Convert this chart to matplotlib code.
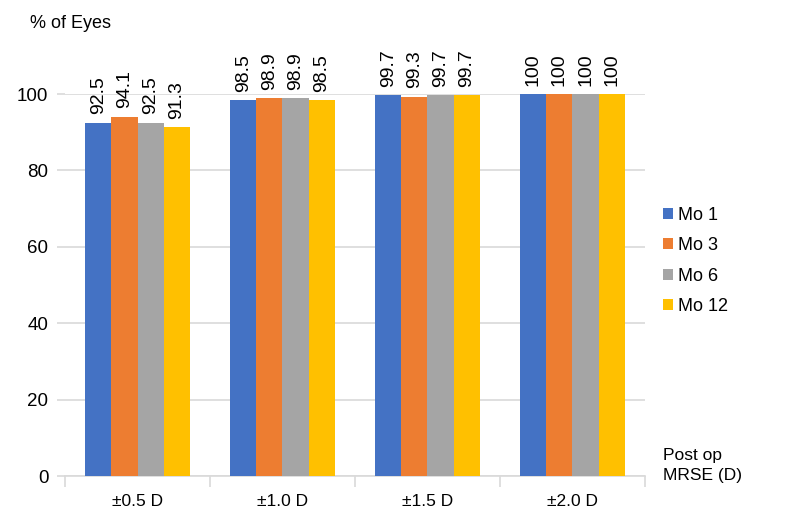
import numpy as np
import matplotlib
matplotlib.use("Agg")
import matplotlib.pyplot as plt
from matplotlib.ticker import FixedLocator

plt.rcParams["font.family"] = ["Liberation Sans", "DejaVu Sans"]

# ---------------- Dados ----------------
categories = ["±0.5 D", "±1.0 D", "±1.5 D", "±2.0 D"]
series_names = ["Mo 1", "Mo 3", "Mo 6", "Mo 12"]
mo1 = [92.5, 98.5, 99.7, 100]
mo3 = [94.1, 98.9, 99.3, 100]
mo6 = [92.5, 98.9, 99.7, 100]
mo12 = [91.3, 98.5, 99.7, 100]
value_labels = [
    ["92.5", "98.5", "99.7", "100"],
    ["94.1", "98.9", "99.3", "100"],
    ["92.5", "98.9", "99.7", "100"],
    ["91.3", "98.5", "99.7", "100"],
]
y_ticks = [0, 20, 40, 60, 80, 100]

colors = ["#4472C4", "#ED7D31", "#A5A5A5", "#FFC000"]
grid_color = "#D9D9D9"

# ---------------- Figura ----------------
fig = plt.figure(figsize=(7.88, 5.2), dpi=100)
ax = fig.add_axes([0.0825, 0.0846, 0.736, 0.7344])

x = np.arange(len(categories))
n = len(series_names)
group_w = 0.72
bar_w = group_w / n

for i, (vals, name) in enumerate(zip([mo1, mo3, mo6, mo12], series_names)):
    xpos = x - group_w / 2 + bar_w * (i + 0.5)
    ax.bar(xpos, vals, width=bar_w, color=colors[i], label=name, zorder=3)
    for xp, v, lab in zip(xpos, vals, value_labels[i]):
        ax.annotate(lab, (xp, v), xytext=(0, 6), textcoords="offset points",
                    rotation=90, ha="center", va="bottom", fontsize=14,
                    annotation_clip=False)

ax.set_xlim(-0.5, len(categories) - 0.5)
ax.set_ylim(0, 100)

# grid horizontal
ax.set_yticks(y_ticks)
ax.yaxis.grid(True, color=grid_color, linewidth=1.2, zorder=0)
ax.tick_params(axis="y", length=6, color=grid_color, width=1.2, labelsize=13.5, pad=6)

# eixo x: ticks nas fronteiras, rótulos no centro
ax.xaxis.set_major_locator(FixedLocator(np.arange(len(categories) + 1) - 0.5))
ax.xaxis.set_minor_locator(FixedLocator(x))
ax.set_xticklabels([])
ax.set_xticklabels(categories, minor=True)
ax.tick_params(axis="x", which="major", length=8, color=grid_color, width=1.2)
ax.tick_params(axis="x", which="minor", length=0, labelsize=12.5, pad=13)

for s in ["top", "right", "left"]:
    ax.spines[s].set_visible(False)
ax.spines["bottom"].set_color(grid_color)
ax.spines["bottom"].set_linewidth(1.2)

fig.text(0.038, 0.954, "% of Eyes", fontsize=13, ha="left", va="center")

leg = ax.legend(loc="upper left", bbox_to_anchor=(1.003, 0.748), frameon=False,
                fontsize=13, handlelength=0.55, handleheight=0.55,
                handletextpad=0.3, labelspacing=0.75)

fig.text(0.841, 0.105, "Post op\nMRSE (D)", fontsize=12.5, ha="left",
         va="center", linespacing=1.45)

fig.savefig("out.png", dpi=100)
plt.close(fig)
